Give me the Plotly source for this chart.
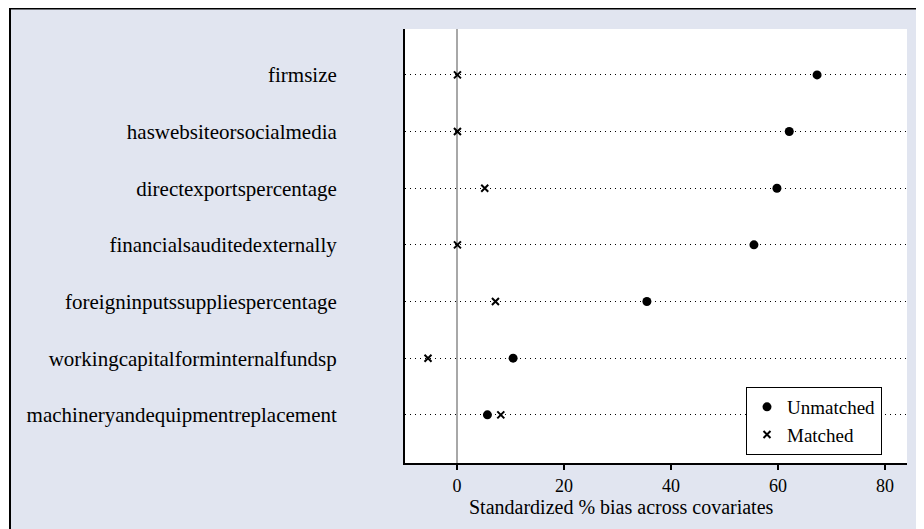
import plotly.graph_objects as go

# ---- data ----
covariates = [
    "firmsize",
    "haswebsiteorsocialmedia",
    "directexportspercentage",
    "financialsauditedexternally",
    "foreigninputssuppliespercentage",
    "workingcapitalforminternalfundsp",
    "machineryandequipmentreplacement",
]
unmatched_bias = [67.3, 62.1, 59.8, 55.5, 35.5, 10.5, 5.7]
matched_bias = [0.1, 0.1, 5.2, 0.1, 7.2, -5.4, 8.2]
x_ticks = [0, 20, 40, 60, 80]
x_title = "Standardized % bias across covariates"

# ---- layout constants (screen pixels; page body has an 8px margin) ----
OFF = 8
W, H = 924 - OFF, 529 - OFF
PLOT_L, PLOT_R, PLOT_T, PLOT_B = 405, 907, 29, 463   # screen coords
L, R, T, B = PLOT_L - OFF, W - (PLOT_R - OFF), PLOT_T - OFF, H - (PLOT_B - OFF)
PW, PH = W - L - R, H - T - B
FONT = "Liberation Serif, Times New Roman, serif"
LAV = "#E1E5F0"


def px_x(p):
    return (p - PLOT_L) / PW


def px_y(p):
    return (PLOT_B - p) / PH


fig = go.Figure()
fig.add_trace(go.Scatter(
    x=unmatched_bias, y=covariates, mode="markers", name="Unmatched",
    marker=dict(symbol="circle", size=9, color="black"),
))
fig.add_trace(go.Scatter(
    x=matched_bias, y=covariates, mode="markers", name="Matched",
    marker=dict(symbol="x-thin", size=7, color="black",
                line=dict(width=2, color="black")),
))

fig.update_layout(
    width=W, height=H,
    margin=dict(l=L, r=R, t=T, b=B, autoexpand=False),
    paper_bgcolor="white",
    plot_bgcolor="white",
    font=dict(family=FONT, size=20, color="black"),
    showlegend=True,
    legend=dict(
        x=px_x(746), y=px_y(455), xanchor="left", yanchor="bottom",
        bgcolor="white", bordercolor="black", borderwidth=1,
        font=dict(family=FONT, size=19, color="black"),
        tracegroupgap=0, itemsizing="trace",
    ),
    shapes=[
        dict(type="rect", xref="paper", yref="paper", layer="below",
             x0=px_x(10), x1=px_x(924 + 20), y0=px_y(529 + 20), y1=px_y(8.5),
             fillcolor=LAV, line=dict(color="black", width=2)),
        dict(type="rect", xref="paper", yref="paper", layer="below",
             x0=0, x1=1, y0=0, y1=1,
             fillcolor="white", line=dict(width=0)),
    ],
    annotations=[
        dict(text=x_title, xref="paper", yref="paper",
             x=px_x(621), y=px_y(507), xanchor="center", yanchor="middle",
             showarrow=False, font=dict(family=FONT, size=20, color="black")),
    ],
)

fig.update_xaxes(
    range=[-9.7, 84.1],
    tickvals=x_ticks,
    ticks="outside", ticklen=5, tickwidth=1.5, tickcolor="black",
    showline=True, linecolor="black", linewidth=2,
    showgrid=False,
    zeroline=True, zerolinecolor="#A8A8A8", zerolinewidth=2,
    tickfont=dict(family=FONT, size=18, color="black"),
)
fig.update_yaxes(
    type="category",
    categoryorder="array", categoryarray=covariates,
    range=[6.85, -0.81],
    ticks="", ticklabelstandoff=62,
    showline=True, linecolor="black", linewidth=2,
    showgrid=True, gridcolor="black", gridwidth=1, griddash="1px,4px",
    zeroline=False,
    tickfont=dict(family=FONT, size=21, color="black"),
)

fig.write_html("out.html")
